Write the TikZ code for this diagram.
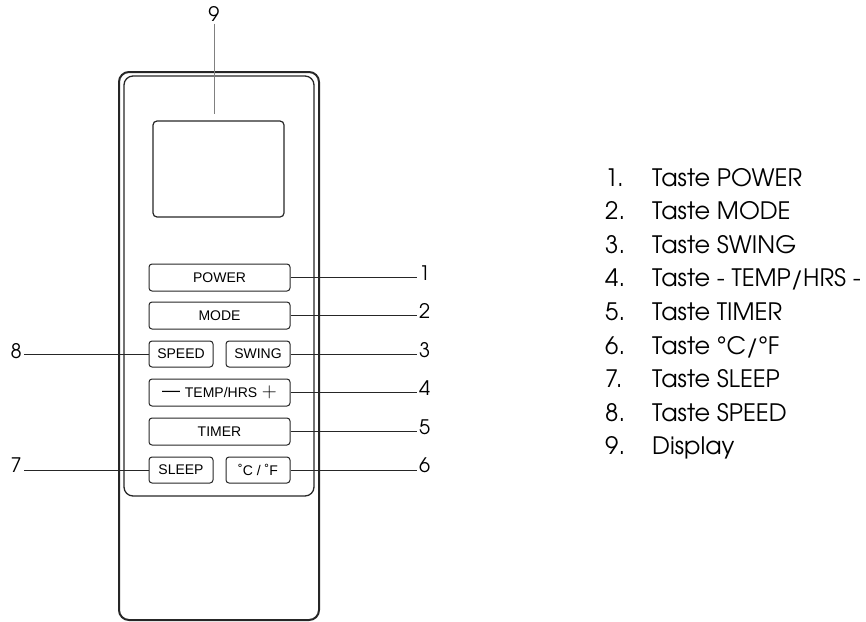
\documentclass[tikz,border=0pt]{standalone}
\usepackage{fontspec}
\newfontfamily\btnfont{Liberation Sans}
\newfontfamily\advfont{texgyreadventor-regular.otf}

\begin{document}
\begin{tikzpicture}[
    x=1pt, y=-1pt,
    btn/.style={draw=black!85, line width=1pt, rounded corners=3pt, minimum height=27pt,
        inner sep=0pt, font=\btnfont\fontsize{14}{14}\selectfont},
    widebtn/.style={btn, minimum width=141pt},
    halfbtn/.style={btn, minimum width=64pt, minimum height=26pt},
    lead/.style={line width=0.9pt, black!85},
    tag/.style={font=\advfont\fontsize{20}{20}\selectfont, inner sep=2pt},
    entry/.style={font=\advfont\fontsize{24}{24}\selectfont, anchor=base west, inner sep=0pt}
]

\useasboundingbox (0,0) rectangle (866,621);

% Remote body and button panel
\draw[line width=2pt, black!85, rounded corners=10pt] (119,72) rectangle (319,620);
\draw[line width=1.3pt, black!85, rounded corners=9pt] (124,76) rectangle (314,496);

% Display
\node[draw=black!85, line width=1.2pt, rounded corners=4pt, minimum width=131pt,
    minimum height=96pt] (Display) at (218.5,169) {};

% Buttons
\node[widebtn] (Power) at (219.5,277.5) {POWER};
\node[widebtn] (Mode)  at (219.5,315.5) {MODE};
\node[halfbtn] (Speed) at (181,354) {SPEED};
\node[halfbtn] (Swing) at (258,354) {SWING};
\node[widebtn] (Temp)  at (219.5,392.5)
    {{\fontsize{18}{18}\selectfont\raisebox{1pt}{—}}\,\,TEMP/HRS\,\,{\fontsize{20}{20}\selectfont$+$}};
\node[widebtn] (Timer) at (219.5,431.5) {TIMER};
\node[halfbtn] (Sleep) at (181,470) {SLEEP};
\node[halfbtn] (Fahr)  at (258,470) {˚C / ˚F};

% Leaders to the right
\foreach \b/\n/\y in {Power/1/273, Mode/2/311, Swing/3/350, Temp/4/388, Timer/5/427, Fahr/6/465} {
    \node[tag, anchor=west] (Tag\n) at (417,\y) {\n};
    \draw[lead] (\b.east) -- (\b.east -| Tag\n.west);
}

% Leaders to the left
\foreach \b/\n/\y in {Speed/8/351, Sleep/7/465} {
    \node[tag, anchor=east] (Tag\n) at (24,\y) {\n};
    \draw[lead] (\b.west) -- (\b.west -| Tag\n.east);
}

% Display leader
\node[tag] (Tag9) at (214,14) {9};
\coordinate (DispTip) at (214,114);
\draw[line width=1pt, gray] (Tag9.south) -- (DispTip);

% Legend
\foreach \i/\t in {1/Taste POWER, 2/Taste MODE, 3/Taste SWING, 4/{Taste - TEMP/HRS -},
    5/Taste TIMER, 6/{Taste °C/°F}, 7/Taste SLEEP, 8/Taste SPEED, 9/Display} {
    \node[entry] (Num\i) at (605,{186+33.6*(\i-1)}) {\i.};
    \node[entry] (Entry\i) at (652,{186+33.6*(\i-1)}) {\t};
}

\end{tikzpicture}
\end{document}
